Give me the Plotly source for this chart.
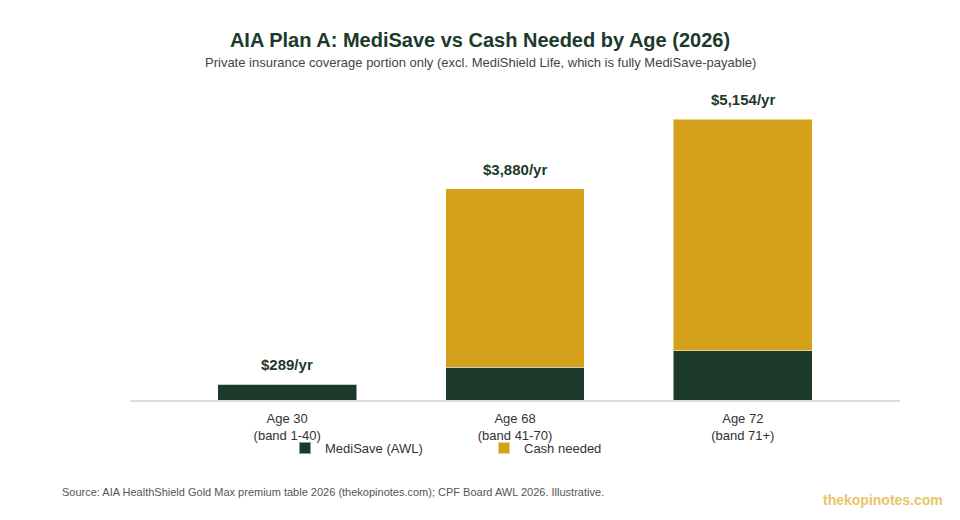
import plotly.graph_objects as go

categories = ["Age 30<br>(band 1-40)", "Age 68<br>(band 41-70)", "Age 72<br>(band 71+)"]
medisave = [289, 600, 900]
cash_needed = [0, 3280, 4254]
totals = [289, 3880, 5154]
total_labels = ["$289/yr", "$3,880/yr", "$5,154/yr"]

GREEN = "#1c3a2b"
GOLD = "#d4a01a"

fig = go.Figure()
fig.add_trace(go.Bar(x=categories, y=medisave, name="MediSave (AWL)",
                     marker=dict(color=GREEN, line=dict(color="rgba(255,255,255,0.5)", width=1)),
                     width=0.61))
fig.add_trace(go.Bar(x=categories, y=cash_needed, name="Cash needed",
                     marker=dict(color=GOLD, line=dict(color="rgba(255,255,255,0.5)", width=1)),
                     width=0.61))

for c, t, lab in zip(categories, totals, total_labels):
    fig.add_annotation(x=c, y=t, text=f"<b>{lab}</b>", showarrow=False,
                       yanchor="bottom", yshift=9,
                       font=dict(family="Liberation Sans, Arial", size=15, color=GREEN))

fig.update_layout(
    barmode="stack",
    width=960, height=520,
    margin=dict(l=130, r=60, t=90, b=120),
    paper_bgcolor="white", plot_bgcolor="white",
    font=dict(family="Liberation Sans, Arial", size=13, color="#333"),
    title=dict(text="<b>AIA Plan A: MediSave vs Cash Needed by Age (2026)</b>",
               x=0.5, xref="container", xanchor="center",
               y=1 - 40/520, yref="container", yanchor="middle",
               font=dict(family="Liberation Sans, Arial", size=20, color=GREEN)),
    showlegend=True,
    legend=dict(orientation="h", x=(484-130)/770, xanchor="center",
                y=-0.155, yanchor="middle", traceorder="normal",
                entrywidth=154, entrywidthmode="pixels",
                font=dict(size=13, color="#333"), itemsizing="constant",
                bgcolor="rgba(0,0,0,0)"),
    xaxis=dict(range=[-0.69, 2.69], showline=True, linecolor="#dddddd", linewidth=1.5,
               showgrid=False, ticks="", ticklabelstandoff=6,
               tickfont=dict(size=13, color="#333")),
    yaxis=dict(range=[0, 5690], visible=False, showgrid=False, zeroline=False),
    bargap=0.39,
)

fig.add_annotation(text="Private insurance coverage portion only (excl. MediShield Life, which is fully MediSave-payable)",
                   xref="paper", yref="paper", x=(480-130)/770, y=(400-62)/310,
                   xanchor="center", yanchor="middle", showarrow=False,
                   font=dict(size=13, color="#444"))
fig.add_annotation(text="Source: AIA HealthShield Gold Max premium table 2026 (thekopinotes.com); CPF Board AWL 2026. Illustrative.",
                   xref="paper", yref="paper", x=(60-130)/770, y=(400-492)/310,
                   xanchor="left", yanchor="middle", showarrow=False,
                   font=dict(size=11, color="#555"))
fig.add_annotation(text="<b>thekopinotes.com</b>",
                   xref="paper", yref="paper", x=(945-130)/770, y=(400-500)/310,
                   xanchor="right", yanchor="middle", showarrow=False,
                   font=dict(size=14, color="#e8c56a"))

fig.write_html("out.html")
